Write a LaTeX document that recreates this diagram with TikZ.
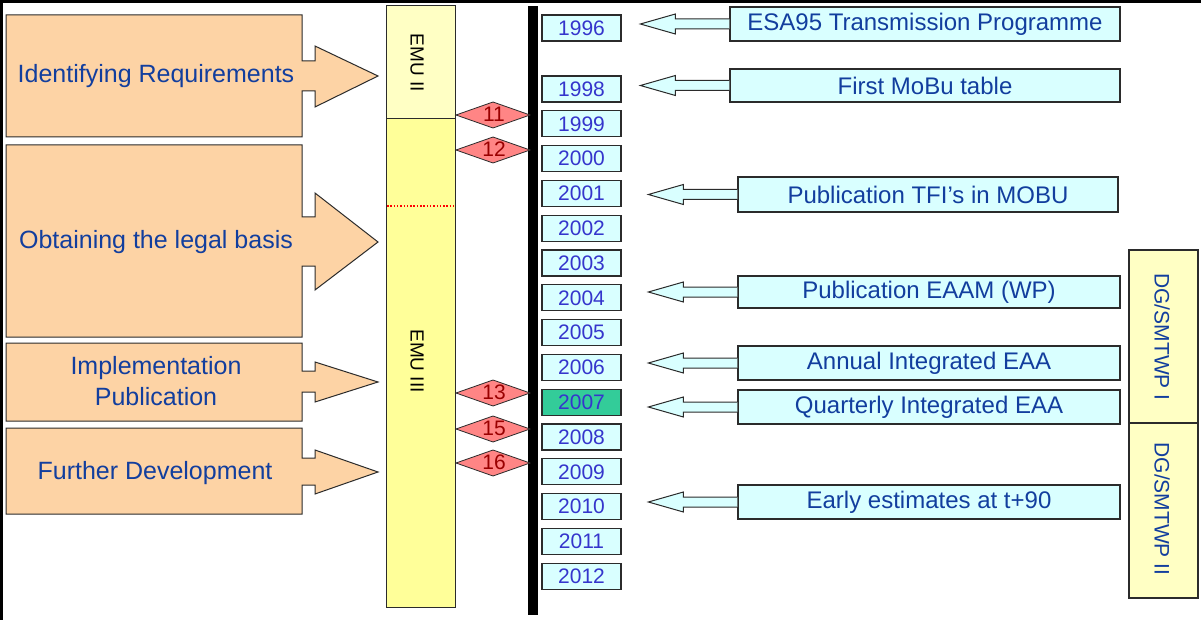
\documentclass[tikz,border=0pt]{standalone}
\usepackage{fontspec}
\setmainfont{Liberation Sans}
\usetikzlibrary{calc}
\definecolor{peach}{HTML}{FDD3A5}
\definecolor{navy}{HTML}{123E9E}
\definecolor{yrblue}{HTML}{3535CC}
\definecolor{cyanbox}{HTML}{D9FFFF}
\definecolor{yellowA}{HTML}{FFFFC4}
\definecolor{yellowB}{HTML}{FFFF99}
\definecolor{salmon}{HTML}{FF8585}
\definecolor{darkredtxt}{HTML}{9A0000}
\definecolor{greenyr}{HTML}{33CC99}
\definecolor{edgegray}{HTML}{2B2B2B}
\newcommand\calloutarrow[1]{%
  \filldraw[calarrow] ($(#1.west)+(0,-5)$) -- ++(-54,0) -- ++(0,-5) -- ++(-35,10)
    -- ++(35,10) -- ++(0,-5) -- ($(#1.west)+(0,5)$);}
\begin{document}
\begin{tikzpicture}[x=1pt,y=-1pt,
  leftarr/.style={draw=edgegray,fill=peach,line width=1pt},
  lefttext/.style={text=navy,font=\fontsize{25}{30}\selectfont,align=center},
  emubox/.style={draw=edgegray,line width=1pt,minimum width=69,inner sep=0},
  emutext/.style={rotate=-90,font=\fontsize{19}{22}\selectfont,text=black},
  yrbox/.style={draw=edgegray,line width=1.2pt,fill=cyanbox,minimum width=79,minimum height=26,inner sep=0,text=yrblue,font=\fontsize{21}{24}\selectfont},
  diam/.style={draw=edgegray,fill=salmon,line width=0.8pt},
  diamtext/.style={text=darkredtxt,font=\fontsize{21}{24}\selectfont,inner sep=0},
  calbox/.style={draw=edgegray,line width=1.2pt,fill=cyanbox,inner sep=0,text=navy,font=\fontsize{24}{28}\selectfont},
  calarrow/.style={draw=edgegray,fill=cyanbox,line width=1pt},
  dgbox/.style={draw=edgegray,line width=1.2pt,fill=yellowA,minimum width=69,inner sep=0},
  dgtext/.style={rotate=-90,text=navy,font=\fontsize{21}{24}\selectfont}]
\useasboundingbox (0,0) rectangle (1201,620);
\fill[white] (0,0) rectangle (1201,620);
% frame
\draw[line width=3pt] (1.5,620) -- (1.5,1.5) -- (1201,1.5);
% left block arrows
\draw[leftarr] (6,15) -- (302,15) -- (302,61) -- (315,61) -- (315,46) -- (378,76) -- (315,107) -- (315,91) -- (302,91) -- (302,137) -- (6,137) -- cycle;
\node[lefttext] (req) at (156,76) {Identifying Requirements};
\draw[leftarr] (6,145) -- (302,145) -- (302,217) -- (315,217) -- (315,193) -- (378,242) -- (315,290) -- (315,266) -- (302,266) -- (302,337) -- (6,337) -- cycle;
\node[lefttext] (legal) at (156,242) {Obtaining the legal basis};
\draw[leftarr] (6,343) -- (302,343) -- (302,371) -- (315,371) -- (315,362) -- (378,382) -- (315,402) -- (315,392) -- (302,392) -- (302,421) -- (6,421) -- cycle;
\node[lefttext] (impl) at (156,368) {Implementation};
\node[lefttext] (publ) at (156,397) {Publication};
\draw[leftarr] (6,428) -- (302,428) -- (302,458) -- (315,458) -- (315,450) -- (378,472) -- (315,494) -- (315,485) -- (302,485) -- (302,514) -- (6,514) -- cycle;
\node[lefttext] (further) at (155,473) {Further Development};
% EMU column
\node[emubox,fill=yellowA,minimum height=113] (emu2) at (420.5,62.5) {};
\node[emubox,fill=yellowB,minimum height=488] (emu3) at (420.5,363) {};
\draw[red,line width=1.2pt,dash pattern=on 1.5pt off 1.8pt] (387,206) -- (454,206);
\node[emutext] (emu2t) at (417,63) {EMU II};
\node[emutext] (emu3t) at (417,361) {EMU III};
% black time bar
\fill[black] (528,6) rectangle (538,615);
% diamonds
\foreach \n/\y in {11/115,12/150,13/393,15/429,16/463}{
  \draw[diam] (456,\y) -- (493,\y-13) -- (530,\y) -- (493,\y+13) -- cycle;
  \node[diamtext] (d\n) at (494,\y-1) {\n};
}
% years
\node[yrbox] (y1996) at (581.5,28) {1996};
\foreach \yr [count=\i from 0] in {1998,1999,2000,2001,2002,2003,2004,2005,2006}{
  \node[yrbox] (y\yr) at (581.5,89+34.8*\i) {\yr};
}
\node[yrbox,fill=greenyr] (y2007) at (581.5,402.2) {2007};
\foreach \yr [count=\i from 10] in {2008,2009,2010,2011,2012}{
  \node[yrbox] (y\yr) at (581.5,89+34.8*\i) {\yr};
}
% callouts
\node[calbox,minimum width=390,minimum height=34] (esa) at (925,24) {ESA95 Transmission Programme};
\node[calbox,minimum width=390,minimum height=33] (mobu) at (925,85.5) {First MoBu table};
\node[calbox,minimum width=380,minimum height=35] (tfi) at (928,194.5) {Publication TFI’s in MOBU};
\node[calbox,minimum width=382,minimum height=32] (eaam) at (929,292) {Publication EAAM (WP)};
\node[calbox,minimum width=382,minimum height=34] (annual) at (929,363) {Annual Integrated EAA};
\node[calbox,minimum width=382,minimum height=34] (quart) at (929,407) {Quarterly Integrated EAA};
\node[calbox,minimum width=382,minimum height=34] (early) at (929,502) {Early estimates at t+90};
\foreach \c in {esa,mobu,tfi,eaam,annual,quart,early}{\calloutarrow{\c}}
% DG boxes
\node[dgbox,minimum height=173] (dg1) at (1163.5,336.5) {};
\node[dgbox,minimum height=175] (dg2) at (1163.5,510.5) {};
\node[dgtext] (dg1t) at (1162,337) {DG/SMTWP I};
\node[dgtext] (dg2t) at (1162,509) {DG/SMTWP II};
\end{tikzpicture}
\end{document}
